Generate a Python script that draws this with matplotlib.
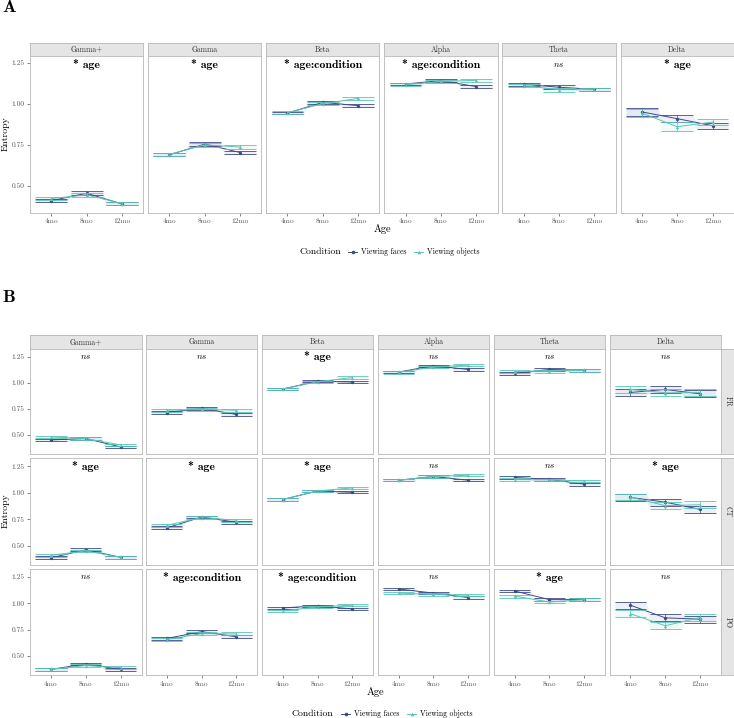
import numpy as np
import matplotlib; matplotlib.use("Agg")
import matplotlib.pyplot as plt
from matplotlib.lines import Line2D

plt.rcParams["font.family"] = "cmr10"
plt.rcParams["mathtext.fontset"] = "cm"
plt.rcParams["axes.formatter.use_mathtext"] = True

W, H = 734, 718
AGES = ["4mo", "8mo", "12mo"]
BANDS = ["Gamma+", "Gamma", "Beta", "Alpha", "Theta", "Delta"]
REGIONS = ["FR", "CT", "PO"]
CONDITIONS = ["Viewing faces", "Viewing objects"]
COLORS = ["#3e4a89", "#5cc4b6"]

# ---- panel A: mean entropy per band (rows) x age (cols)
A_FACES   = [[0.410, 0.455, 0.390], [0.689, 0.754, 0.703], [0.943, 1.008, 0.988],
             [1.120, 1.140, 1.104], [1.118, 1.100, 1.087], [0.950, 0.909, 0.866]]
A_OBJECTS = [[0.423, 0.445, 0.392], [0.692, 0.750, 0.736], [0.945, 1.000, 1.032],
             [1.115, 1.135, 1.142], [1.110, 1.085, 1.085], [0.943, 0.860, 0.888]]
A_FACES_CI   = [[0.010, 0.011, 0.009], [0.010, 0.012, 0.010], [0.008, 0.009, 0.009],
                [0.008, 0.009, 0.010], [0.010, 0.011, 0.009], [0.022, 0.020, 0.018]]
A_OBJECTS_CI = [[0.010, 0.011, 0.009], [0.010, 0.011, 0.010], [0.008, 0.009, 0.009],
                [0.008, 0.009, 0.010], [0.010, 0.011, 0.009], [0.022, 0.026, 0.020]]
A_SIG = ["* age", "* age", "* age:condition", "* age:condition", "ns", "* age"]

# ---- panel B: same, split by region
B_FACES = {
    "FR": [[0.452, 0.465, 0.385], [0.715, 0.754, 0.696], [0.940, 1.016, 1.007],
           [1.103, 1.164, 1.128], [1.090, 1.128, 1.120], [0.907, 0.936, 0.894]],
    "CT": [[0.385, 0.460, 0.390], [0.667, 0.770, 0.720], [0.935, 1.016, 1.003],
           [1.117, 1.152, 1.117], [1.143, 1.125, 1.080], [0.955, 0.910, 0.842]],
    "PO": [[0.373, 0.425, 0.373], [0.667, 0.732, 0.683], [0.957, 0.977, 0.948],
           [1.137, 1.098, 1.056], [1.118, 1.036, 1.036], [0.983, 0.863, 0.850]],
}
B_OBJECTS = {
    "FR": [[0.481, 0.465, 0.404], [0.737, 0.745, 0.737], [0.940, 1.010, 1.050],
           [1.100, 1.150, 1.170], [1.110, 1.110, 1.120], [0.936, 0.904, 0.906]],
    "CT": [[0.408, 0.450, 0.390], [0.692, 0.765, 0.740], [0.935, 1.016, 1.045],
           [1.117, 1.152, 1.165], [1.123, 1.120, 1.110], [0.958, 0.877, 0.886]],
    "PO": [[0.373, 0.410, 0.390], [0.657, 0.713, 0.710], [0.928, 0.967, 0.983],
           [1.098, 1.085, 1.078], [1.069, 1.013, 1.036], [0.902, 0.788, 0.866]],
}
B_CI = [0.013, 0.014, 0.011, 0.011, 0.013, 0.032]  # per band, both conditions
B_SIG = {
    "FR": ["ns", "ns", "* age", "ns", "ns", "ns"],
    "CT": ["* age", "* age", "* age", "ns", "ns", "* age"],
    "PO": ["ns", "* age:condition", "* age:condition", "ns", "* age", "ns"],
}

BORDER = "#b8b8b8"
STRIP = "#e5e5e5"
TICKC = "#555555"

fig = plt.figure(figsize=(W / 100, H / 100), dpi=100)


def ax_px(x0, y0, x1, y1):
    return fig.add_axes([x0 / W, 1 - y1 / H, (x1 - x0) / W, (y1 - y0) / H])


def strip(x0, y0, x1, y1, text, rot=0):
    s = ax_px(x0, y0, x1, y1)
    s.set_facecolor(STRIP)
    s.set_xticks([]); s.set_yticks([])
    for sp in s.spines.values():
        sp.set_color(BORDER); sp.set_linewidth(0.6)
    s.text(0.5, 0.5, text, transform=s.transAxes, ha="center", va="center",
           fontsize=5.5, color="#333333", rotation=rot)


def draw_panel(ax, means, cis, sig, ylim, sig_y, left, bottom):
    x = np.arange(len(AGES))
    markers = ["o", "^"]
    for k in range(2):
        m = np.array(means[k]); c = np.array(cis[k])
        lo, hi = m - c, m + c
        xr = np.ravel([[i - 0.45, i + 0.45] for i in x])
        ax.fill_between(xr, np.repeat(lo, 2), np.repeat(hi, 2), color=COLORS[k],
                        alpha=0.08, lw=0)
        ax.hlines(lo, x - 0.45, x + 0.45, color=COLORS[k], lw=0.6)
        ax.hlines(hi, x - 0.45, x + 0.45, color=COLORS[k], lw=0.6)
        ax.vlines(x, lo, hi, color=COLORS[k], lw=0.5)
        ax.plot(x, m, color=COLORS[k], lw=0.7, marker=markers[k], ms=2.4, mew=0)
    if sig == "ns":
        ax.text(1, sig_y, r"$ns$", ha="center", va="center", fontsize=6.5)
    else:
        ax.text(1, sig_y, sig, ha="center", va="center", fontsize=8.5, family="cmb10")
    ax.set_xlim(-0.6, 2.6); ax.set_ylim(*ylim)
    ax.set_xticks(x); ax.set_yticks([0.5, 0.75, 1.0, 1.25])
    ax.set_xticklabels(AGES if bottom else [])
    ax.set_yticklabels(["0.50", "0.75", "1.00", "1.25"] if left else [])
    ax.tick_params(length=2, width=0.5, color=TICKC, labelsize=5.3, labelcolor=TICKC, pad=2)
    if not bottom:
        ax.tick_params(axis="x", length=0)
    if not left:
        ax.tick_params(axis="y", length=0)
    for sp in ax.spines.values():
        sp.set_color(BORDER); sp.set_linewidth(0.6)


def legend(x_title, x_keys, y):
    fig.text(x_title / W, 1 - y / H, "Condition", fontsize=7, va="center")
    handles = [Line2D([0], [0], color=COLORS[k], lw=0.7, marker=m, ms=2.6, mew=0)
               for k, m in enumerate(["o", "^"])]
    fig.legend(handles, CONDITIONS, ncol=2, loc="center left", frameon=False,
               bbox_to_anchor=(x_keys / W, 1 - y / H), fontsize=5.5, handlelength=1.2,
               handletextpad=0.5, columnspacing=1.0, borderpad=0, borderaxespad=0)


# ==================== panel A ====================
fig.text(2 / W, 1 - 8 / H, "A", fontsize=13, fontweight="bold", family="cmb10", va="center")
for j, band in enumerate(BANDS):
    x0 = 30 + j * 118.1
    strip(x0, 43, x0 + 113.3, 56, band)
    ax = ax_px(x0, 56, x0 + 113.3, 213)
    draw_panel(ax, [A_FACES[j], A_OBJECTS[j]], [A_FACES_CI[j], A_OBJECTS_CI[j]],
               A_SIG[j], (0.335, 1.29), 1.237, j == 0, True)
fig.text(6 / W, 1 - 134 / H, "Entropy", rotation=90, fontsize=7, ha="center", va="center")
fig.text(382 / W, 1 - 229 / H, "Age", fontsize=7.5, ha="center", va="center")
legend(299, 348, 252)

# ==================== panel B ====================
fig.text(2 / W, 1 - 297 / H, "B", fontsize=13, fontweight="bold", family="cmb10", va="center")
rows = [(349, 454), (458.3, 565), (569.3, 675.3)]
for r, region in enumerate(REGIONS):
    y0, y1 = rows[r]
    for j, band in enumerate(BANDS):
        x0 = 30 + j * 115.9
        if r == 0:
            strip(x0, 335, x0 + 111.5, 349, band)
        ax = ax_px(x0, y0, x0 + 111.5, y1)
        ci = [B_CI[j]] * 3
        draw_panel(ax, [B_FACES[region][j], B_OBJECTS[region][j]], [ci, ci],
                   B_SIG[region][j], (0.317, 1.324), 1.25, j == 0, r == 2)
    strip(721, y0, 734, y1, region, rot=-90)
fig.text(6 / W, 1 - 511 / H, "Entropy", rotation=90, fontsize=7, ha="center", va="center")
fig.text(375 / W, 1 - 692 / H, "Age", fontsize=7.5, ha="center", va="center")
legend(291.5, 341, 714)

fig.savefig("out.png", dpi=100)
